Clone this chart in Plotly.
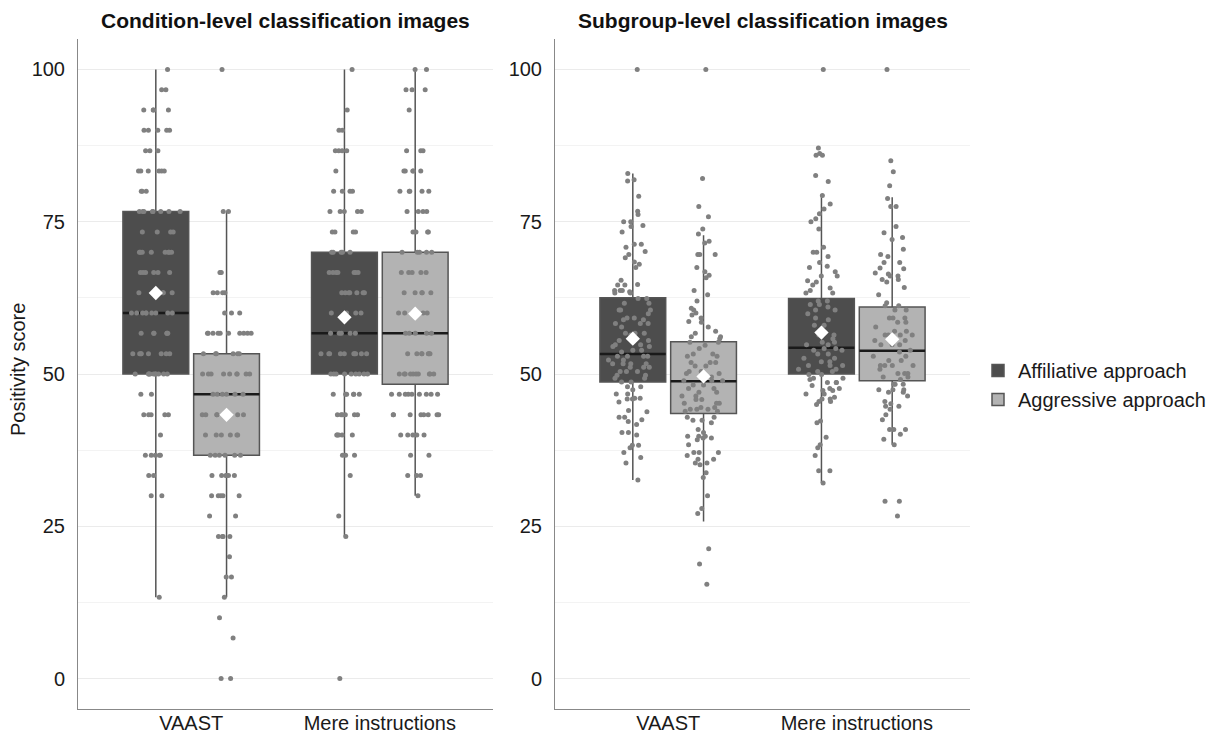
import numpy as np
import plotly.graph_objects as go

# ---------------- data ----------------
categories = ["VAAST", "Mere instructions"]
groups = ["Affiliative approach", "Aggressive approach"]
panel_titles = ["Condition-level classification images", "Subgroup-level classification images"]

# Condition-level (discrete scores): levels and number of dots read at each level
cond_aff_vaast_levels = [100, 96.67, 93.33, 90, 86.67, 83.33, 80, 76.67, 73.33, 70, 66.67, 63.33, 60, 56.67, 53.33, 50, 46.67, 43.33, 40, 36.67, 33.33, 30, 13.33]
cond_aff_vaast_counts = [1, 2, 4, 5, 3, 6, 3, 8, 4, 8, 6, 4, 9, 6, 8, 10, 2, 5, 1, 5, 2, 2, 1]

cond_agg_vaast_levels = [100, 76.67, 66.67, 63.33, 60, 56.67, 53.33, 50, 46.67, 43.33, 40, 36.67, 33.33, 30, 26.67, 23.33, 20, 16.67, 13.33, 10, 6.67, 0]
cond_agg_vaast_counts = [1, 2, 2, 4, 3, 10, 6, 9, 6, 8, 6, 6, 6, 5, 2, 4, 1, 2, 1, 1, 1, 2]

cond_aff_mere_levels = [100, 93.33, 90, 86.67, 83.33, 80, 76.67, 73.33, 70, 66.67, 63.33, 60, 56.67, 53.33, 50, 46.67, 43.33, 40, 36.67, 33.33, 26.67, 23.33, 0]
cond_aff_mere_counts = [1, 1, 2, 4, 1, 4, 5, 4, 5, 7, 7, 4, 5, 10, 9, 6, 6, 5, 3, 1, 1, 1, 1]

cond_agg_mere_levels = [100, 96.67, 93.33, 86.67, 83.33, 80, 76.67, 73.33, 70, 66.67, 63.33, 60, 56.67, 53.33, 50, 46.67, 43.33, 40, 36.67, 33.33, 30]
cond_agg_mere_counts = [2, 3, 1, 3, 5, 5, 4, 4, 5, 5, 5, 5, 5, 7, 10, 9, 8, 5, 2, 3, 1]

# Subgroup-level (continuous scores)
sub_aff_vaast = [100, 82.9, 81.9, 81.7, 79.2, 76.7, 76.2, 75.0, 75.0, 74.4, 74.2, 73.3, 71.3, 71.3, 70.8, 70.1, 69.6, 69.1, 68.4, 68.0, 67.5, 65.4, 64.6, 64.6, 64.7, 63.7, 63.7, 63.7, 63.5, 63.3, 63.3, 62.4, 62.4, 61.6, 61.6, 60.5, 60.5, 60.5, 59.9, 59.2, 59.2, 58.9, 58.9, 58.3, 58.3, 58.3, 57.7, 56.7, 56.7, 56.7, 56.4, 55.5, 55.5, 54.8, 54.8, 54.5, 54.5, 53.9, 53.9, 53.6, 52.9, 52.9, 52.9, 52.9, 52.3, 52.3, 51.7, 51.7, 51.7, 51.7, 51.1, 51.1, 51.1, 50.4, 50.4, 50.4, 49.8, 49.8, 49.3, 49.3, 48.7, 48.7, 47.9, 47.9, 47.4, 46.7, 46.7, 46.0, 46.0, 45.9, 45.9, 45.4, 44.0, 43.8, 42.9, 42.9, 42.5, 42.2, 41.7, 40.4, 40.4, 40.0, 38.3, 38.3, 37.9, 37.1, 36.3, 35.4, 32.6]
sub_agg_vaast = [100, 82.1, 77.5, 75.8, 73.8, 73.0, 71.8, 71.5, 69.6, 69.6, 69.6, 67.5, 66.8, 66.2, 65.8, 63.7, 63.0, 62.0, 60.8, 60.5, 60.0, 59.7, 59.2, 58.6, 58.5, 57.7, 57.0, 56.7, 56.1, 56.1, 55.8, 55.2, 55.2, 54.7, 54.2, 53.3, 53.3, 52.9, 52.9, 51.9, 51.9, 51.9, 51.3, 51.3, 50.4, 50.4, 50.1, 50.1, 49.5, 48.9, 48.9, 48.9, 48.2, 48.2, 47.6, 47.6, 47.0, 47.0, 46.4, 46.4, 45.8, 45.8, 45.2, 45.2, 45.2, 44.5, 44.5, 44.2, 44.2, 44.2, 43.9, 43.9, 42.9, 42.9, 42.4, 42.4, 42.0, 40.9, 40.4, 39.8, 39.8, 39.8, 39.5, 39.5, 39.2, 38.4, 37.1, 37.1, 37.1, 36.6, 36.0, 36.0, 35.4, 35.4, 35.1, 33.8, 33.0, 30.0, 27.9, 27.1, 21.3, 18.8, 15.5]
sub_aff_mere = [100, 87.1, 86.2, 85.9, 85.9, 82.6, 81.6, 79.3, 77.9, 77.1, 76.3, 75.5, 75.0, 73.8, 70.8, 70.0, 70.0, 69.3, 68.3, 67.7, 67.5, 66.8, 66.1, 66.1, 65.3, 65.1, 64.6, 64.1, 63.7, 63.3, 63.3, 62.0, 62.0, 61.4, 61.4, 61.0, 60.5, 60.5, 59.9, 59.2, 58.9, 58.0, 58.0, 56.4, 56.4, 55.8, 55.2, 55.2, 54.8, 54.8, 54.2, 54.2, 53.9, 53.9, 53.3, 53.3, 52.6, 52.6, 52.0, 52.0, 51.4, 51.4, 51.4, 50.8, 50.8, 50.4, 50.4, 49.9, 49.9, 49.3, 49.3, 49.1, 48.6, 48.6, 48.6, 48.1, 47.6, 47.6, 47.3, 47.3, 46.7, 46.7, 46.2, 45.9, 45.9, 45.5, 45.5, 45.0, 42.3, 42.0, 39.6, 38.4, 37.9, 36.6, 34.1, 34.1, 32.1]
sub_agg_mere = [100, 85.0, 83.2, 80.9, 78.8, 77.5, 77.5, 74.2, 73.2, 72.4, 72.1, 70.5, 69.6, 69.3, 68.3, 68.3, 67.4, 67.3, 66.6, 66.4, 66.1, 66.1, 65.5, 65.5, 65.1, 64.2, 63.0, 61.7, 61.2, 61.2, 60.5, 60.5, 59.2, 59.2, 59.2, 58.5, 58.5, 57.7, 57.0, 57.0, 56.4, 56.4, 56.4, 56.4, 55.5, 55.5, 54.8, 54.8, 54.8, 53.9, 53.6, 52.9, 52.9, 52.2, 52.2, 51.4, 51.4, 51.4, 51.4, 50.8, 50.1, 50.1, 50.1, 49.5, 49.5, 49.1, 48.3, 48.3, 48.3, 47.4, 47.4, 47.4, 47.0, 47.0, 46.4, 45.5, 45.1, 44.7, 44.7, 44.2, 43.3, 42.5, 40.9, 40.9, 40.9, 40.1, 39.3, 38.4, 29.1, 29.1, 26.7]

# Box statistics per panel / group, ordered as categories [VAAST, Mere instructions]
cond_aff_q1 = [50, 50];        cond_aff_med = [60, 56.67];    cond_aff_q3 = [76.67, 70]
cond_aff_lo = [13.33, 23.33];  cond_aff_hi = [100, 100];      cond_aff_mean = [63.3, 59.3]
cond_agg_q1 = [36.67, 48.33];  cond_agg_med = [46.67, 56.67]; cond_agg_q3 = [53.33, 70]
cond_agg_lo = [13.33, 30];     cond_agg_hi = [76.67, 100];    cond_agg_mean = [43.3, 59.9]

sub_aff_q1 = [48.7, 50.0];     sub_aff_med = [53.3, 54.3];    sub_aff_q3 = [62.5, 62.4]
sub_aff_lo = [32.6, 32.1];     sub_aff_hi = [82.9, 79.0];     sub_aff_mean = [55.8, 56.8]
sub_agg_q1 = [43.5, 48.9];     sub_agg_med = [48.8, 53.8];    sub_agg_q3 = [55.3, 61.0]
sub_agg_lo = [25.8, 38.4];     sub_agg_hi = [72.8, 79.0];     sub_agg_mean = [49.6, 55.7]

# ---------------- assemble ----------------
cond_points = {
    0: [np.repeat(cond_aff_vaast_levels, cond_aff_vaast_counts), np.repeat(cond_aff_mere_levels, cond_aff_mere_counts)],
    1: [np.repeat(cond_agg_vaast_levels, cond_agg_vaast_counts), np.repeat(cond_agg_mere_levels, cond_agg_mere_counts)],
}
sub_points = {0: [sub_aff_vaast, sub_aff_mere], 1: [sub_agg_vaast, sub_agg_mere]}

stats = {
    (0, 0): dict(q1=cond_aff_q1, median=cond_aff_med, q3=cond_aff_q3, lowerfence=cond_aff_lo, upperfence=cond_aff_hi, mean=cond_aff_mean),
    (0, 1): dict(q1=cond_agg_q1, median=cond_agg_med, q3=cond_agg_q3, lowerfence=cond_agg_lo, upperfence=cond_agg_hi, mean=cond_agg_mean),
    (1, 0): dict(q1=sub_aff_q1, median=sub_aff_med, q3=sub_aff_q3, lowerfence=sub_aff_lo, upperfence=sub_aff_hi, mean=sub_aff_mean),
    (1, 1): dict(q1=sub_agg_q1, median=sub_agg_med, q3=sub_agg_q3, lowerfence=sub_agg_lo, upperfence=sub_agg_hi, mean=sub_agg_mean),
}
points = {0: cond_points, 1: sub_points}

fills = ["#4d4d4d", "#b3b3b3"]
clear = "rgba(0,0,0,0)"
FONT = "Liberation Sans, Arial, Helvetica, sans-serif"

fig = go.Figure()
for p in range(2):
    xa = "x" if p == 0 else "x2"
    ya = "y" if p == 0 else "y2"
    for g in range(2):
        s = stats[(p, g)]
        og = "g%d" % g
        # box + whiskers
        fig.add_trace(go.Box(
            x=categories, q1=s["q1"], median=s["median"], q3=s["q3"],
            lowerfence=s["lowerfence"], upperfence=s["upperfence"],
            fillcolor=fills[g], line=dict(color="#555555", width=1.5),
            whiskerwidth=0, boxpoints=False, offsetgroup=og,
            name=groups[g], legendgroup=og, showlegend=(p == 0),
            xaxis=xa, yaxis=ya, hoverinfo="skip"))
        # median bar
        fig.add_trace(go.Box(
            x=categories, q1=s["median"], median=s["median"], q3=s["median"],
            lowerfence=s["median"], upperfence=s["median"],
            fillcolor=clear, line=dict(color="#1a1a1a", width=2.5),
            whiskerwidth=0, boxpoints=False, offsetgroup=og,
            showlegend=False, xaxis=xa, yaxis=ya, hoverinfo="skip"))
        # jittered dots
        xs, ys = [], []
        for c, vals in zip(categories, points[p][g]):
            xs += [c] * len(vals)
            ys += list(vals)
        fig.add_trace(go.Box(
            x=xs, y=ys, boxpoints="all", jitter=0.75, pointpos=0,
            fillcolor=clear, line=dict(color=clear, width=0),
            marker=dict(color="#808080", size=5, line=dict(width=0)),
            offsetgroup=og, showlegend=False, xaxis=xa, yaxis=ya, hoverinfo="skip"))
        # mean diamond
        fig.add_trace(go.Box(
            x=categories, y=s["mean"], boxpoints="all", jitter=0, pointpos=0,
            fillcolor=clear, line=dict(color=clear, width=0),
            marker=dict(color="white", size=11, symbol="diamond", line=dict(width=0)),
            offsetgroup=og, showlegend=False, xaxis=xa, yaxis=ya, hoverinfo="skip"))

W, H = 1231, 735
def fx(px):
    return px / W
def fy(py):
    return 1 - py / H

yax = dict(
    range=[-5, 105], tickvals=[0, 25, 50, 75, 100], showgrid=True,
    gridcolor="#ebebeb", gridwidth=1, zeroline=False, automargin=False,
    minor=dict(tickvals=[12.5, 37.5, 62.5, 87.5], showgrid=True, gridcolor="#f3f3f3", gridwidth=1),
    showline=True, linecolor="#888888", linewidth=1, ticks="",
    ticklabelstandoff=8, tickfont=dict(family=FONT, size=20, color="#1a1a1a"),
    domain=[fy(709), fy(39)])
xax = dict(
    type="category", range=[-0.6, 1.6], showgrid=False, zeroline=False, automargin=False,
    showline=True, linecolor="#888888", linewidth=1, ticks="",
    ticklabelstandoff=-4, tickfont=dict(family=FONT, size=20, color="#1a1a1a"))

fig.update_layout(
    width=W, height=H, autosize=False,
    margin=dict(l=0, r=0, t=0, b=0, autoexpand=False),
    paper_bgcolor="white", plot_bgcolor="white",
    boxmode="group", boxgap=0.25, boxgroupgap=0.07,
    xaxis=dict(xax, domain=[fx(78), fx(493)], anchor="y"),
    xaxis2=dict(xax, domain=[fx(555), fx(970)], anchor="y2"),
    yaxis=dict(yax, anchor="x"),
    yaxis2=dict(yax, anchor="x2"),
    legend=dict(x=fx(978), y=fy(385), xanchor="left", yanchor="middle",
                font=dict(family=FONT, size=20, color="#1a1a1a"),
                bgcolor=clear, tracegroupgap=0, itemwidth=30),
    showlegend=True,
    annotations=[
        dict(text="<b>%s</b>" % panel_titles[0], x=fx(285.5), y=fy(20), xref="paper", yref="paper",
             showarrow=False, xanchor="center", yanchor="middle",
             font=dict(family=FONT, size=21, color="#111111")),
        dict(text="<b>%s</b>" % panel_titles[1], x=fx(762.5), y=fy(20), xref="paper", yref="paper",
             showarrow=False, xanchor="center", yanchor="middle",
             font=dict(family=FONT, size=21, color="#111111")),
        dict(text="Positivity score", x=fx(18), y=fy(370), xref="paper", yref="paper",
             showarrow=False, xanchor="center", yanchor="middle", textangle=-90,
             font=dict(family=FONT, size=20, color="#1a1a1a")),
    ],
)

fig.write_html("out.html")
